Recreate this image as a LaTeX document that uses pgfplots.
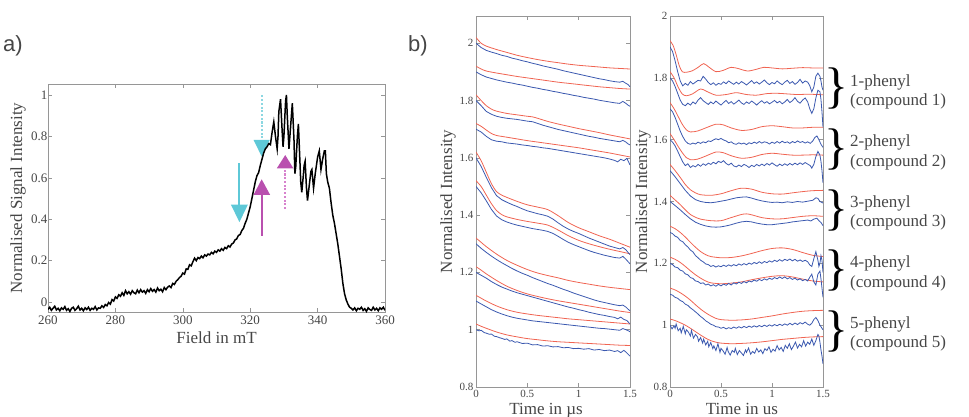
\documentclass[border=0pt]{standalone}
\usepackage{pgfplots}
\pgfplotsset{compat=1.18}
\usepackage{fontspec}
\setmainfont{Liberation Serif}
\newfontfamily\labsans{Liberation Sans}
\definecolor{axgray}{RGB}{150,150,150}
\definecolor{txtgray}{RGB}{70,70,70}
\definecolor{cyanarr}{RGB}{94,200,215}
\definecolor{magarr}{RGB}{185,80,175}
\definecolor{cyandot}{RGB}{140,215,225}
\definecolor{magdot}{RGB}{215,130,205}
\definecolor{redl}{RGB}{240,100,82}
\definecolor{bluel}{RGB}{58,88,175}
\pgfplotsset{
  myax/.style={scale only axis, enlargelimits=false, clip=true,
    axis line style={draw=axgray, line width=0.6pt},
    tick style={color=axgray, line width=0.5pt},
    major tick length=4pt, tick align=inside,
    xtick pos=both, ytick pos=both,
    /pgf/number format/assume math mode=true,
    tick label style={text=txtgray},
    label style={text=txtgray, font=\fontsize{17}{17}\selectfont}},
  rl/.style={color=redl, line width=0.8pt, smooth, no markers},
  bl/.style={color=bluel, line width=0.8pt, no markers},
}
\begin{document}
\begin{tikzpicture}
\useasboundingbox (0pt,0pt) rectangle (969pt,-416pt);
\node[anchor=base west, font=\labsans\fontsize{22}{22}\selectfont, text=txtgray, inner sep=0pt] at (3pt,-51pt) {a)};
\node[anchor=base west, font=\labsans\fontsize{22}{22}\selectfont, text=txtgray, inner sep=0pt] at (408pt,-51pt) {b)};

% ---------- panel a ----------
\begin{axis}[myax, at={(48pt,-312pt)}, anchor=south west, width=337pt, height=228pt,
  xmin=260, xmax=360, ymin=-0.048, ymax=1.053,
  xtick={260,280,...,360}, ytick={0,0.2,0.4,0.6,0.8,1},
  yticklabels={0,0.2,0.4,0.6,0.8,1},
  tick label style={font=\fontsize{13}{13}\selectfont},
  yticklabel style={xshift=3pt},
  xlabel={Field in mT}, ylabel={Normalised Signal Intensity},
  xlabel style={at={(axis description cs:0.5,-0.136)}, anchor=base},
  ylabel style={at={(axis description cs:-0.089,0.5)}, anchor=center}]
% arrows (shafts and heads as filled shapes)
\fill[cyanarr] (axis cs:316.5,0.67) rectangle (axis cs:317.1,0.465);
\fill[cyanarr] (axis cs:314.3,0.47) -- (axis cs:319.3,0.47) -- (axis cs:316.8,0.386) -- cycle;
\fill[cyanarr] (axis cs:321.0,0.783) -- (axis cs:325.8,0.783) -- (axis cs:323.4,0.703) -- cycle;
\fill[magarr] (axis cs:323.1,0.32) rectangle (axis cs:323.7,0.525);
\fill[magarr] (axis cs:321.0,0.518) -- (axis cs:325.9,0.518) -- (axis cs:323.4,0.593) -- cycle;
\fill[magarr] (axis cs:327.9,0.646) -- (axis cs:332.8,0.646) -- (axis cs:330.4,0.71) -- cycle;
% dotted shafts
\fill[cyandot] (axis cs:323.1,0.790) rectangle (axis cs:323.7,0.800);
\fill[cyandot] (axis cs:323.1,0.808) rectangle (axis cs:323.7,0.818);
\fill[cyandot] (axis cs:323.1,0.826) rectangle (axis cs:323.7,0.836);
\fill[cyandot] (axis cs:323.1,0.844) rectangle (axis cs:323.7,0.854);
\fill[cyandot] (axis cs:323.1,0.862) rectangle (axis cs:323.7,0.872);
\fill[cyandot] (axis cs:323.1,0.880) rectangle (axis cs:323.7,0.890);
\fill[cyandot] (axis cs:323.1,0.898) rectangle (axis cs:323.7,0.908);
\fill[cyandot] (axis cs:323.1,0.916) rectangle (axis cs:323.7,0.926);
\fill[cyandot] (axis cs:323.1,0.934) rectangle (axis cs:323.7,0.944);
\fill[cyandot] (axis cs:323.1,0.952) rectangle (axis cs:323.7,0.962);
\fill[cyandot] (axis cs:323.1,0.970) rectangle (axis cs:323.7,0.980);
\fill[cyandot] (axis cs:323.1,0.988) rectangle (axis cs:323.7,0.998);
\fill[magdot] (axis cs:330.1,0.449) rectangle (axis cs:330.7,0.459);
\fill[magdot] (axis cs:330.1,0.467) rectangle (axis cs:330.7,0.477);
\fill[magdot] (axis cs:330.1,0.485) rectangle (axis cs:330.7,0.495);
\fill[magdot] (axis cs:330.1,0.503) rectangle (axis cs:330.7,0.513);
\fill[magdot] (axis cs:330.1,0.521) rectangle (axis cs:330.7,0.531);
\fill[magdot] (axis cs:330.1,0.539) rectangle (axis cs:330.7,0.549);
\fill[magdot] (axis cs:330.1,0.557) rectangle (axis cs:330.7,0.567);
\fill[magdot] (axis cs:330.1,0.575) rectangle (axis cs:330.7,0.585);
\fill[magdot] (axis cs:330.1,0.593) rectangle (axis cs:330.7,0.603);
\fill[magdot] (axis cs:330.1,0.611) rectangle (axis cs:330.7,0.621);
\fill[magdot] (axis cs:330.1,0.629) rectangle (axis cs:330.7,0.639);
\addplot[color=black, line width=1.5pt, no markers] coordinates {
(260.0,-0.035)(260.5,-0.025)(261.0,-0.04)(261.5,-0.03)(262.0,-0.02)(262.5,-0.038)(263.0,-0.03)(263.5,-0.042)(264.0,-0.028)(264.5,-0.035)
(265.0,-0.022)(265.5,-0.04)(266.0,-0.032)(266.5,-0.045)(267.0,-0.03)(267.5,-0.025)(268.0,-0.04)(268.5,-0.032)(269.0,-0.02)(269.5,-0.038)
(270.0,-0.03)(270.5,-0.042)(271.0,-0.028)(271.5,-0.036)(272.0,-0.025)(272.5,-0.04)(273.0,-0.03)(273.5,-0.035)(274.0,-0.022)(274.5,-0.038)
(275.0,-0.028)(275.5,-0.03)(276.0,-0.018)(276.5,-0.026)(277.0,-0.012)(277.5,-0.018)(278.0,-0.002)(278.5,-0.01)(279.0,0.012)(279.5,0.005)
(280.0,0.025)(280.5,0.018)(281.0,0.035)(281.5,0.028)(282.0,0.045)(282.5,0.032)(283.0,0.055)(283.5,0.04)(284.0,0.05)(284.5,0.038)
(285.0,0.055)(285.5,0.045)(286.0,0.04)(286.5,0.058)(287.0,0.045)(287.5,0.06)(288.0,0.048)(288.5,0.055)(289.0,0.042)(289.5,0.06)
(290.0,0.05)(290.5,0.065)(291.0,0.052)(291.5,0.06)(292.0,0.048)(292.5,0.068)(293.0,0.055)(293.5,0.062)(294.0,0.05)(294.5,0.07)
(295.0,0.06)(295.5,0.072)(296.0,0.078)(296.5,0.07)(297.0,0.09)(297.5,0.085)(298.0,0.1)(298.5,0.108)(299.0,0.118)(299.5,0.125)
(300.0,0.14)(300.5,0.135)(301.0,0.16)(301.5,0.158)(302.0,0.18)(302.5,0.175)(303.0,0.195)(303.5,0.212)(304.0,0.2)(304.5,0.215)
(305.0,0.21)(305.5,0.222)(306.0,0.214)(306.5,0.228)(307.0,0.222)(307.5,0.232)(308.0,0.228)(308.5,0.24)(309.0,0.233)(309.5,0.246)
(310.0,0.24)(310.5,0.252)(311.0,0.246)(311.5,0.258)(312.0,0.25)(312.5,0.264)(313.0,0.258)(313.5,0.272)(314.0,0.266)(314.5,0.28)
(315.0,0.285)(315.5,0.3)(316.0,0.305)(316.5,0.322)(317.0,0.326)(317.5,0.345)(318.0,0.356)(318.5,0.38)(319.0,0.4)(319.5,0.43)
(320.0,0.46)(320.5,0.5)(321.0,0.54)(321.5,0.58)(322.0,0.61)(322.5,0.625)(323.0,0.66)(323.5,0.69)(324.0,0.72)(324.5,0.74)
(325.0,0.75)(325.5,0.765)(326.0,0.76)(326.5,0.82)(327.0,0.87)(327.5,0.8)(328.0,0.74)(328.25,0.8)(328.5,0.92)(329.0,0.98)
(329.5,0.82)(329.75,0.75)(330.0,0.8)(330.5,0.97)(330.75,1.0)(331.0,0.9)(331.5,0.74)(332.0,0.85)(332.5,0.96)(333.0,0.78)
(333.25,0.62)(333.5,0.65)(334.0,0.8)(334.3,0.86)(334.7,0.7)(335.0,0.58)(335.3,0.53)(335.7,0.6)(336.0,0.66)(336.3,0.68)
(336.7,0.55)(337.0,0.49)(337.5,0.56)(338.0,0.63)(338.3,0.64)(338.8,0.55)(339.3,0.62)(340.0,0.7)(340.5,0.73)(341.0,0.64)
(341.5,0.69)(342.0,0.73)(342.3,0.73)(342.6,0.62)(343.0,0.58)(343.5,0.55)(344.0,0.48)(344.5,0.42)(345.0,0.38)(345.5,0.33)
(346.0,0.28)(346.5,0.22)(347.0,0.16)(347.5,0.09)(348.0,0.04)(348.5,0.01)(349.0,-0.01)(349.5,-0.025)(350.0,-0.03)(350.5,-0.038)
(351.0,-0.028)(351.5,-0.042)(352.0,-0.03)(352.5,-0.035)(353.0,-0.025)(353.5,-0.04)(354.0,-0.032)(354.5,-0.045)(355.0,-0.028)(355.5,-0.036)
(356.0,-0.04)(356.5,-0.025)(357.0,-0.038)(357.5,-0.03)(358.0,-0.042)(358.5,-0.028)(359.0,-0.035)(359.5,-0.025)(360.0,-0.04)
};
\end{axis}

% ---------- panel b left ----------
\begin{axis}[myax, at={(476pt,-387pt)}, anchor=south west, width=154pt, height=371pt,
  xmin=0, xmax=1.5, ymin=0.8, ymax=2.095,
  xtick={0,0.5,1,1.5}, xticklabels={0,0.5,1,1.5},
  ytick={0.8,1,1.2,1.4,1.6,1.8,2}, yticklabels={0.8,1,1.2,1.4,1.6,1.8,2},
  tick label style={font=\fontsize{11}{11}\selectfont},
  yticklabel style={xshift=1pt},
  xlabel={Time in µs}, ylabel={Normalised Intensity},
  xlabel style={at={(axis description cs:0.455,-0.073)}, anchor=base},
  ylabel style={at={(axis description cs:-0.182,0.5)}, anchor=center}]
% red
\addplot[rl] coordinates {(0,2.02)(0.05,2.0)(0.1,1.99)(0.2,1.978)(0.3,1.968)(0.4,1.958)(0.5,1.95)(0.6,1.943)(0.7,1.937)(0.8,1.932)(0.9,1.927)(1.0,1.923)(1.1,1.92)(1.2,1.917)(1.3,1.914)(1.4,1.912)(1.5,1.91)};
\addplot[rl] coordinates {(0,1.92)(0.05,1.91)(0.1,1.903)(0.2,1.896)(0.3,1.89)(0.4,1.884)(0.5,1.879)(0.6,1.874)(0.7,1.869)(0.8,1.864)(0.9,1.86)(1.0,1.856)(1.1,1.852)(1.2,1.848)(1.3,1.845)(1.4,1.842)(1.5,1.84)};
\addplot[rl] coordinates {(0,1.82)(0.05,1.80)(0.1,1.782)(0.15,1.77)(0.2,1.763)(0.3,1.755)(0.4,1.75)(0.5,1.745)(0.55,1.743)(0.6,1.738)(0.7,1.727)(0.8,1.718)(0.9,1.71)(1.0,1.702)(1.1,1.695)(1.2,1.688)(1.3,1.68)(1.4,1.673)(1.5,1.666)};
\addplot[rl] coordinates {(0,1.72)(0.05,1.71)(0.1,1.697)(0.15,1.685)(0.2,1.678)(0.3,1.672)(0.4,1.666)(0.5,1.66)(0.6,1.655)(0.7,1.65)(0.8,1.645)(0.9,1.64)(1.0,1.635)(1.1,1.629)(1.2,1.623)(1.3,1.617)(1.4,1.61)(1.5,1.603)};
\addplot[rl] coordinates {(0,1.62)(0.05,1.59)(0.1,1.55)(0.15,1.51)(0.2,1.482)(0.25,1.47)(0.3,1.462)(0.4,1.448)(0.5,1.436)(0.6,1.428)(0.7,1.419)(0.8,1.398)(0.9,1.374)(1.0,1.356)(1.1,1.342)(1.2,1.328)(1.3,1.316)(1.4,1.302)(1.5,1.288)};
\addplot[rl] coordinates {(0,1.52)(0.05,1.50)(0.1,1.47)(0.15,1.44)(0.2,1.416)(0.25,1.402)(0.3,1.394)(0.4,1.385)(0.5,1.378)(0.6,1.372)(0.7,1.365)(0.8,1.348)(0.9,1.328)(1.0,1.312)(1.1,1.30)(1.2,1.29)(1.3,1.281)(1.4,1.273)(1.5,1.265)};
\addplot[rl] coordinates {(0,1.32)(0.05,1.305)(0.1,1.29)(0.2,1.264)(0.3,1.242)(0.4,1.225)(0.5,1.21)(0.6,1.198)(0.7,1.189)(0.8,1.181)(0.9,1.172)(1.0,1.165)(1.1,1.159)(1.2,1.153)(1.3,1.148)(1.4,1.144)(1.5,1.14)};
\addplot[rl] coordinates {(0,1.22)(0.05,1.208)(0.1,1.195)(0.2,1.172)(0.3,1.152)(0.4,1.137)(0.5,1.125)(0.6,1.116)(0.7,1.108)(0.8,1.101)(0.9,1.095)(1.0,1.089)(1.1,1.083)(1.2,1.077)(1.3,1.071)(1.4,1.065)(1.5,1.06)};
\addplot[rl] coordinates {(0,1.12)(0.05,1.11)(0.1,1.10)(0.2,1.083)(0.3,1.07)(0.4,1.061)(0.5,1.055)(0.6,1.05)(0.7,1.046)(0.8,1.042)(0.9,1.038)(1.0,1.035)(1.1,1.032)(1.2,1.029)(1.3,1.026)(1.4,1.023)(1.5,1.02)};
\addplot[rl] coordinates {(0,1.02)(0.05,1.012)(0.1,1.005)(0.2,0.992)(0.3,0.982)(0.4,0.975)(0.5,0.969)(0.6,0.965)(0.7,0.961)(0.8,0.958)(0.9,0.956)(1.0,0.954)(1.1,0.952)(1.2,0.95)(1.3,0.948)(1.4,0.946)(1.5,0.945)};
% blue
\addplot[bl] coordinates {(0,2.0)(0.05,1.985)(0.1,1.975)(0.15,1.969)(0.2,1.964)(0.25,1.958)(0.3,1.954)(0.35,1.948)(0.4,1.944)(0.45,1.939)(0.5,1.935)(0.55,1.93)(0.6,1.926)(0.65,1.921)(0.7,1.917)(0.75,1.913)(0.8,1.909)(0.85,1.904)(0.9,1.9)(0.95,1.896)(1.0,1.892)(1.05,1.888)(1.1,1.884)(1.15,1.88)(1.2,1.876)(1.25,1.873)(1.3,1.869)(1.35,1.866)(1.4,1.864)(1.43,1.867)(1.46,1.86)(1.48,1.856)(1.5,1.848)};
\addplot[bl] coordinates {(0,1.9)(0.05,1.89)(0.1,1.882)(0.15,1.877)(0.2,1.872)(0.25,1.868)(0.3,1.864)(0.35,1.861)(0.4,1.857)(0.45,1.854)(0.5,1.85)(0.55,1.846)(0.6,1.843)(0.65,1.839)(0.7,1.836)(0.75,1.832)(0.8,1.829)(0.85,1.825)(0.9,1.822)(0.95,1.818)(1.0,1.815)(1.05,1.811)(1.1,1.808)(1.15,1.805)(1.2,1.801)(1.25,1.798)(1.3,1.795)(1.35,1.792)(1.4,1.79)(1.43,1.797)(1.46,1.79)(1.48,1.784)(1.5,1.78)};
\addplot[bl] coordinates {(0,1.80)(0.05,1.782)(0.1,1.762)(0.15,1.752)(0.2,1.745)(0.25,1.741)(0.3,1.738)(0.35,1.736)(0.4,1.734)(0.45,1.731)(0.5,1.728)(0.55,1.726)(0.6,1.72)(0.65,1.714)(0.7,1.709)(0.75,1.704)(0.8,1.699)(0.85,1.695)(0.9,1.691)(0.95,1.687)(1.0,1.683)(1.05,1.679)(1.1,1.675)(1.15,1.672)(1.2,1.668)(1.25,1.665)(1.3,1.662)(1.35,1.659)(1.4,1.656)(1.43,1.661)(1.46,1.655)(1.48,1.649)(1.5,1.645)};
\addplot[bl] coordinates {(0,1.70)(0.05,1.69)(0.1,1.675)(0.15,1.663)(0.2,1.658)(0.25,1.656)(0.3,1.652)(0.35,1.65)(0.4,1.648)(0.45,1.645)(0.5,1.643)(0.55,1.64)(0.6,1.638)(0.65,1.635)(0.7,1.633)(0.75,1.63)(0.8,1.627)(0.85,1.624)(0.9,1.621)(0.95,1.618)(1.0,1.615)(1.05,1.612)(1.1,1.609)(1.15,1.606)(1.2,1.603)(1.25,1.6)(1.3,1.596)(1.35,1.591)(1.38,1.586)(1.41,1.595)(1.44,1.59)(1.47,1.598)(1.5,1.575)};
\addplot[bl] coordinates {(0,1.60)(0.05,1.57)(0.1,1.532)(0.15,1.496)(0.2,1.468)(0.25,1.454)(0.3,1.445)(0.35,1.437)(0.4,1.43)(0.45,1.422)(0.5,1.415)(0.55,1.41)(0.6,1.405)(0.65,1.401)(0.7,1.396)(0.75,1.386)(0.8,1.373)(0.85,1.361)(0.9,1.351)(0.95,1.343)(1.0,1.336)(1.05,1.328)(1.1,1.32)(1.15,1.313)(1.2,1.306)(1.25,1.299)(1.3,1.292)(1.35,1.287)(1.4,1.282)(1.43,1.287)(1.46,1.279)(1.48,1.27)(1.5,1.262)};
\addplot[bl] coordinates {(0,1.50)(0.05,1.478)(0.1,1.45)(0.15,1.42)(0.2,1.397)(0.25,1.384)(0.3,1.376)(0.35,1.37)(0.4,1.365)(0.45,1.361)(0.5,1.357)(0.55,1.353)(0.6,1.35)(0.65,1.347)(0.7,1.343)(0.75,1.336)(0.8,1.326)(0.85,1.315)(0.9,1.305)(0.95,1.297)(1.0,1.29)(1.05,1.283)(1.1,1.276)(1.15,1.27)(1.2,1.265)(1.25,1.26)(1.3,1.256)(1.35,1.252)(1.4,1.25)(1.43,1.256)(1.46,1.246)(1.48,1.238)(1.5,1.23)};
\addplot[bl] coordinates {(0,1.30)(0.05,1.284)(0.1,1.27)(0.15,1.257)(0.2,1.245)(0.25,1.234)(0.3,1.224)(0.35,1.214)(0.4,1.205)(0.45,1.197)(0.5,1.19)(0.55,1.182)(0.6,1.175)(0.65,1.168)(0.7,1.161)(0.75,1.155)(0.8,1.148)(0.85,1.141)(0.9,1.135)(0.95,1.128)(1.0,1.122)(1.05,1.116)(1.1,1.11)(1.15,1.104)(1.2,1.099)(1.25,1.095)(1.3,1.091)(1.35,1.087)(1.4,1.084)(1.43,1.086)(1.46,1.079)(1.48,1.072)(1.5,1.066)};
\addplot[bl] coordinates {(0,1.20)(0.05,1.19)(0.1,1.18)(0.15,1.168)(0.2,1.158)(0.25,1.149)(0.3,1.142)(0.35,1.135)(0.4,1.129)(0.45,1.124)(0.5,1.119)(0.55,1.114)(0.6,1.109)(0.65,1.104)(0.7,1.099)(0.75,1.094)(0.8,1.089)(0.85,1.084)(0.9,1.079)(0.95,1.075)(1.0,1.07)(1.05,1.066)(1.1,1.061)(1.15,1.057)(1.2,1.053)(1.25,1.05)(1.3,1.046)(1.35,1.043)(1.38,1.038)(1.41,1.044)(1.44,1.036)(1.47,1.032)(1.5,1.02)};
\addplot[bl] coordinates {(0,1.10)(0.05,1.09)(0.1,1.08)(0.15,1.07)(0.2,1.062)(0.25,1.055)(0.3,1.049)(0.35,1.044)(0.4,1.04)(0.45,1.037)(0.5,1.034)(0.55,1.031)(0.6,1.029)(0.65,1.027)(0.7,1.025)(0.75,1.023)(0.8,1.021)(0.85,1.019)(0.9,1.017)(0.95,1.015)(1.0,1.013)(1.05,1.011)(1.1,1.009)(1.15,1.007)(1.2,1.005)(1.25,1.004)(1.3,1.002)(1.35,1.0)(1.4,0.998)(1.43,1.004)(1.46,1.0)(1.48,0.997)(1.5,0.993)};
\addplot[bl] coordinates {(0,1.0)(0.03,0.996)(0.05,0.998)(0.08,0.99)(0.1,0.988)(0.13,0.984)(0.15,0.985)(0.18,0.977)(0.2,0.976)(0.23,0.972)(0.25,0.97)(0.28,0.966)(0.3,0.968)(0.33,0.96)(0.35,0.962)(0.38,0.956)(0.4,0.958)(0.45,0.952)(0.5,0.953)(0.55,0.947)(0.6,0.948)(0.65,0.943)(0.7,0.944)(0.75,0.94)(0.8,0.941)(0.85,0.937)(0.9,0.938)(0.95,0.934)(1.0,0.935)(1.05,0.932)(1.1,0.934)(1.15,0.929)(1.2,0.931)(1.25,0.927)(1.3,0.929)(1.35,0.924)(1.38,0.927)(1.41,0.92)(1.44,0.928)(1.46,0.922)(1.48,0.915)(1.5,0.908)};
\end{axis}

% ---------- panel b right ----------
\begin{axis}[myax, at={(670pt,-387pt)}, anchor=south west, width=153pt, height=371pt,
  xmin=0, xmax=1.5, ymin=0.8, ymax=2,
  xtick={0,0.5,1,1.5}, xticklabels={0,0.5,1,1.5},
  ytick={0.8,1,1.2,1.4,1.6,1.8,2}, yticklabels={0.8,1,1.2,1.4,1.6,1.8,2},
  tick label style={font=\fontsize{11}{11}\selectfont},
  yticklabel style={xshift=1pt},
  xlabel={Time in us}, ylabel={Normalised Intensity},
  xlabel style={at={(axis description cs:0.47,-0.073)}, anchor=base},
  ylabel style={at={(axis description cs:-0.176,0.5)}, anchor=center}]
% red
\addplot[rl] coordinates {(0,1.92)(0.03,1.905)(0.06,1.875)(0.09,1.84)(0.12,1.82)(0.16,1.818)(0.22,1.823)(0.28,1.835)(0.33,1.846)(0.38,1.835)(0.45,1.82)(0.52,1.824)(0.6,1.834)(0.68,1.829)(0.76,1.822)(0.85,1.828)(0.92,1.834)(1.0,1.832)(1.1,1.829)(1.2,1.831)(1.3,1.833)(1.4,1.832)(1.5,1.832)};
\addplot[rl] coordinates {(0,1.82)(0.04,1.8)(0.08,1.77)(0.12,1.748)(0.16,1.742)(0.22,1.748)(0.3,1.764)(0.36,1.756)(0.45,1.744)(0.55,1.746)(0.65,1.752)(0.75,1.746)(0.85,1.744)(0.95,1.749)(1.05,1.75)(1.15,1.748)(1.25,1.746)(1.35,1.747)(1.45,1.746)(1.5,1.745)};
\addplot[rl] coordinates {(0,1.72)(0.04,1.70)(0.08,1.675)(0.12,1.65)(0.16,1.632)(0.2,1.625)(0.27,1.628)(0.35,1.638)(0.45,1.65)(0.52,1.648)(0.6,1.638)(0.7,1.63)(0.8,1.633)(0.9,1.642)(1.0,1.645)(1.1,1.642)(1.2,1.638)(1.3,1.638)(1.4,1.64)(1.5,1.64)};
\addplot[rl] coordinates {(0,1.62)(0.04,1.60)(0.08,1.578)(0.12,1.558)(0.16,1.542)(0.2,1.535)(0.27,1.537)(0.35,1.547)(0.45,1.56)(0.52,1.558)(0.6,1.548)(0.7,1.54)(0.8,1.543)(0.9,1.552)(1.0,1.556)(1.1,1.553)(1.2,1.55)(1.3,1.55)(1.4,1.551)(1.5,1.55)};
\addplot[rl] coordinates {(0,1.52)(0.05,1.50)(0.1,1.478)(0.15,1.455)(0.2,1.438)(0.25,1.428)(0.3,1.422)(0.4,1.42)(0.5,1.425)(0.6,1.435)(0.7,1.443)(0.8,1.44)(0.9,1.43)(1.0,1.425)(1.1,1.424)(1.2,1.428)(1.3,1.432)(1.4,1.435)(1.5,1.436)};
\addplot[rl] coordinates {(0,1.42)(0.05,1.405)(0.1,1.39)(0.15,1.373)(0.2,1.358)(0.25,1.349)(0.3,1.343)(0.4,1.338)(0.5,1.338)(0.6,1.348)(0.7,1.358)(0.75,1.36)(0.8,1.357)(0.9,1.348)(1.0,1.344)(1.1,1.344)(1.2,1.348)(1.3,1.352)(1.4,1.354)(1.5,1.352)};
\addplot[rl] coordinates {(0,1.32)(0.05,1.312)(0.1,1.3)(0.15,1.285)(0.2,1.268)(0.25,1.252)(0.3,1.238)(0.35,1.228)(0.4,1.222)(0.5,1.218)(0.6,1.219)(0.7,1.224)(0.8,1.232)(0.9,1.241)(1.0,1.248)(1.1,1.25)(1.2,1.245)(1.3,1.235)(1.4,1.226)(1.5,1.222)};
\addplot[rl] coordinates {(0,1.22)(0.05,1.213)(0.1,1.203)(0.15,1.19)(0.2,1.176)(0.25,1.163)(0.3,1.152)(0.35,1.143)(0.4,1.137)(0.5,1.134)(0.6,1.136)(0.7,1.14)(0.8,1.147)(0.9,1.153)(1.0,1.158)(1.1,1.16)(1.2,1.156)(1.3,1.149)(1.4,1.143)(1.5,1.14)};
\addplot[rl] coordinates {(0,1.12)(0.05,1.114)(0.1,1.105)(0.15,1.094)(0.2,1.081)(0.25,1.066)(0.3,1.052)(0.35,1.04)(0.4,1.03)(0.45,1.022)(0.5,1.018)(0.6,1.016)(0.7,1.017)(0.8,1.02)(0.9,1.025)(1.0,1.03)(1.1,1.036)(1.2,1.041)(1.3,1.045)(1.4,1.047)(1.5,1.048)};
\addplot[rl] coordinates {(0,1.02)(0.05,1.015)(0.1,1.008)(0.15,1.0)(0.2,0.99)(0.25,0.979)(0.3,0.968)(0.35,0.958)(0.4,0.95)(0.45,0.945)(0.5,0.942)(0.6,0.94)(0.7,0.941)(0.8,0.943)(0.9,0.946)(1.0,0.95)(1.1,0.954)(1.2,0.957)(1.3,0.96)(1.4,0.962)(1.5,0.963)};
% blue
\addplot[bl] coordinates {(0,1.90)(0.025,1.885)(0.05,1.855)(0.075,1.82)(0.1,1.79)(0.125,1.774)(0.15,1.782)(0.175,1.776)(0.2,1.788)(0.225,1.78)(0.25,1.786)(0.275,1.792)(0.3,1.79)(0.325,1.805)(0.35,1.796)(0.375,1.785)(0.4,1.778)(0.425,1.784)(0.45,1.776)(0.475,1.782)(0.5,1.779)(0.525,1.787)(0.55,1.781)(0.575,1.79)(0.6,1.784)(0.625,1.779)(0.65,1.786)(0.675,1.78)(0.7,1.788)(0.725,1.783)(0.75,1.777)(0.775,1.784)(0.8,1.791)(0.825,1.782)(0.85,1.787)(0.875,1.78)(0.9,1.786)(0.925,1.793)(0.95,1.784)(0.975,1.778)(1.0,1.785)(1.025,1.781)(1.05,1.79)(1.075,1.783)(1.1,1.778)(1.125,1.786)(1.15,1.792)(1.175,1.782)(1.2,1.788)(1.225,1.779)(1.25,1.785)(1.275,1.795)(1.3,1.783)(1.325,1.79)(1.35,1.786)(1.37,1.775)(1.39,1.755)(1.41,1.77)(1.43,1.805)(1.45,1.815)(1.47,1.805)(1.48,1.79)(1.49,1.77)(1.5,1.76)};
\addplot[bl] coordinates {(0,1.80)(0.025,1.79)(0.05,1.772)(0.075,1.75)(0.1,1.728)(0.125,1.714)(0.15,1.71)(0.175,1.718)(0.2,1.712)(0.225,1.722)(0.25,1.716)(0.275,1.728)(0.3,1.736)(0.325,1.726)(0.35,1.72)(0.375,1.714)(0.4,1.722)(0.425,1.716)(0.45,1.725)(0.475,1.718)(0.5,1.712)(0.525,1.72)(0.55,1.727)(0.575,1.717)(0.6,1.723)(0.625,1.715)(0.65,1.721)(0.675,1.728)(0.7,1.719)(0.725,1.714)(0.75,1.722)(0.775,1.717)(0.8,1.725)(0.825,1.719)(0.85,1.712)(0.875,1.72)(0.9,1.726)(0.925,1.718)(0.95,1.723)(0.975,1.716)(1.0,1.721)(1.025,1.727)(1.05,1.719)(1.075,1.724)(1.1,1.716)(1.125,1.722)(1.15,1.73)(1.175,1.72)(1.2,1.726)(1.225,1.736)(1.25,1.724)(1.275,1.718)(1.3,1.728)(1.325,1.735)(1.35,1.722)(1.37,1.7)(1.39,1.685)(1.41,1.7)(1.43,1.735)(1.45,1.76)(1.47,1.755)(1.48,1.73)(1.49,1.69)(1.5,1.64)};
\addplot[bl] coordinates {(0,1.70)(0.025,1.69)(0.05,1.672)(0.075,1.65)(0.1,1.628)(0.125,1.61)(0.15,1.596)(0.175,1.588)(0.2,1.585)(0.225,1.589)(0.25,1.586)(0.275,1.592)(0.3,1.588)(0.325,1.593)(0.35,1.59)(0.375,1.596)(0.4,1.594)(0.425,1.599)(0.45,1.603)(0.475,1.6)(0.5,1.604)(0.525,1.599)(0.55,1.596)(0.575,1.59)(0.6,1.593)(0.625,1.587)(0.65,1.585)(0.675,1.59)(0.7,1.586)(0.725,1.589)(0.75,1.584)(0.775,1.59)(0.8,1.587)(0.825,1.592)(0.85,1.588)(0.875,1.594)(0.9,1.589)(0.925,1.593)(0.95,1.591)(0.975,1.586)(1.0,1.592)(1.025,1.588)(1.05,1.594)(1.075,1.589)(1.1,1.595)(1.125,1.59)(1.15,1.593)(1.175,1.588)(1.2,1.594)(1.225,1.59)(1.25,1.596)(1.275,1.591)(1.3,1.594)(1.325,1.589)(1.35,1.593)(1.375,1.588)(1.4,1.596)(1.42,1.607)(1.44,1.612)(1.46,1.6)(1.48,1.585)(1.5,1.575)};
\addplot[bl] coordinates {(0,1.60)(0.025,1.592)(0.05,1.58)(0.075,1.563)(0.1,1.545)(0.125,1.528)(0.15,1.516)(0.175,1.522)(0.2,1.51)(0.225,1.516)(0.25,1.512)(0.275,1.52)(0.3,1.514)(0.325,1.522)(0.35,1.517)(0.375,1.524)(0.4,1.52)(0.425,1.527)(0.45,1.522)(0.475,1.53)(0.5,1.526)(0.525,1.532)(0.55,1.523)(0.575,1.518)(0.6,1.524)(0.625,1.515)(0.65,1.512)(0.675,1.518)(0.7,1.513)(0.725,1.52)(0.75,1.516)(0.775,1.51)(0.8,1.517)(0.825,1.513)(0.85,1.52)(0.875,1.515)(0.9,1.521)(0.925,1.516)(0.95,1.523)(0.975,1.518)(1.0,1.525)(1.025,1.519)(1.05,1.514)(1.075,1.521)(1.1,1.516)(1.125,1.522)(1.15,1.517)(1.175,1.523)(1.2,1.518)(1.225,1.524)(1.25,1.519)(1.275,1.525)(1.3,1.52)(1.325,1.526)(1.35,1.521)(1.375,1.516)(1.39,1.508)(1.41,1.52)(1.43,1.545)(1.45,1.562)(1.47,1.55)(1.48,1.53)(1.49,1.5)(1.5,1.46)};
\addplot[bl] coordinates {(0,1.50)(0.05,1.48)(0.1,1.458)(0.15,1.436)(0.2,1.418)(0.25,1.406)(0.3,1.4)(0.35,1.397)(0.4,1.396)(0.45,1.398)(0.5,1.401)(0.55,1.404)(0.6,1.408)(0.65,1.412)(0.7,1.414)(0.75,1.415)(0.8,1.411)(0.85,1.406)(0.9,1.402)(0.95,1.399)(1.0,1.397)(1.05,1.398)(1.1,1.396)(1.15,1.399)(1.2,1.397)(1.25,1.4)(1.3,1.398)(1.35,1.401)(1.4,1.404)(1.43,1.412)(1.45,1.41)(1.47,1.4)(1.5,1.395)};
\addplot[bl] coordinates {(0,1.40)(0.05,1.387)(0.1,1.373)(0.15,1.358)(0.2,1.344)(0.25,1.333)(0.3,1.326)(0.35,1.321)(0.4,1.318)(0.45,1.317)(0.5,1.318)(0.55,1.321)(0.6,1.325)(0.65,1.33)(0.7,1.334)(0.75,1.336)(0.8,1.334)(0.85,1.33)(0.9,1.327)(0.95,1.325)(1.0,1.325)(1.05,1.327)(1.1,1.329)(1.15,1.331)(1.2,1.334)(1.25,1.336)(1.3,1.338)(1.35,1.34)(1.38,1.337)(1.41,1.343)(1.44,1.346)(1.46,1.338)(1.48,1.332)(1.5,1.322)};
\addplot[bl] coordinates {(0,1.30)(0.025,1.296)(0.05,1.288)(0.075,1.284)(0.1,1.274)(0.125,1.27)(0.15,1.26)(0.175,1.253)(0.2,1.243)(0.225,1.237)(0.25,1.225)(0.275,1.218)(0.3,1.21)(0.325,1.205)(0.35,1.198)(0.375,1.196)(0.4,1.19)(0.425,1.193)(0.45,1.188)(0.475,1.192)(0.5,1.189)(0.525,1.194)(0.55,1.19)(0.575,1.195)(0.6,1.191)(0.625,1.196)(0.65,1.192)(0.675,1.198)(0.7,1.194)(0.725,1.199)(0.75,1.195)(0.775,1.201)(0.8,1.197)(0.825,1.203)(0.85,1.199)(0.875,1.205)(0.9,1.2)(0.925,1.206)(0.95,1.202)(0.975,1.208)(1.0,1.204)(1.025,1.21)(1.05,1.206)(1.075,1.212)(1.1,1.207)(1.125,1.213)(1.15,1.209)(1.175,1.214)(1.2,1.208)(1.225,1.213)(1.25,1.207)(1.275,1.211)(1.3,1.206)(1.325,1.21)(1.35,1.205)(1.37,1.195)(1.39,1.19)(1.41,1.215)(1.43,1.238)(1.45,1.21)(1.46,1.19)(1.47,1.2)(1.48,1.225)(1.49,1.21)(1.5,1.17)};
\addplot[bl] coordinates {(0,1.20)(0.025,1.196)(0.05,1.188)(0.075,1.186)(0.1,1.178)(0.125,1.175)(0.15,1.166)(0.175,1.163)(0.2,1.154)(0.225,1.151)(0.25,1.143)(0.275,1.141)(0.3,1.135)(0.325,1.137)(0.35,1.13)(0.375,1.133)(0.4,1.127)(0.425,1.131)(0.45,1.126)(0.475,1.132)(0.5,1.127)(0.525,1.133)(0.55,1.129)(0.575,1.135)(0.6,1.13)(0.625,1.137)(0.65,1.133)(0.675,1.139)(0.7,1.135)(0.725,1.141)(0.75,1.137)(0.775,1.143)(0.8,1.14)(0.825,1.146)(0.85,1.142)(0.875,1.148)(0.9,1.144)(0.925,1.15)(0.95,1.146)(0.975,1.152)(1.0,1.148)(1.025,1.154)(1.05,1.15)(1.075,1.156)(1.1,1.151)(1.125,1.156)(1.15,1.15)(1.175,1.154)(1.2,1.148)(1.225,1.152)(1.25,1.146)(1.275,1.15)(1.3,1.144)(1.325,1.148)(1.35,1.143)(1.37,1.155)(1.39,1.165)(1.41,1.14)(1.43,1.13)(1.45,1.165)(1.47,1.175)(1.48,1.15)(1.49,1.12)(1.5,1.09)};
\addplot[bl] coordinates {(0,1.10)(0.025,1.097)(0.05,1.09)(0.075,1.087)(0.1,1.08)(0.125,1.076)(0.15,1.068)(0.175,1.064)(0.2,1.056)(0.225,1.05)(0.25,1.043)(0.275,1.036)(0.3,1.028)(0.325,1.022)(0.35,1.014)(0.375,1.009)(0.4,1.003)(0.425,1.0)(0.45,0.995)(0.475,0.994)(0.5,0.99)(0.525,0.993)(0.55,0.988)(0.575,0.992)(0.6,0.989)(0.625,0.994)(0.65,0.99)(0.675,0.995)(0.7,0.991)(0.725,0.996)(0.75,0.992)(0.775,0.997)(0.8,0.993)(0.825,0.998)(0.85,0.994)(0.875,0.999)(0.9,0.995)(0.925,1.0)(0.95,0.996)(0.975,1.001)(1.0,0.997)(1.025,1.002)(1.05,0.998)(1.075,1.003)(1.1,0.999)(1.125,1.004)(1.15,1.0)(1.175,1.006)(1.2,1.001)(1.225,1.007)(1.25,1.002)(1.275,1.008)(1.3,1.004)(1.325,1.01)(1.35,1.003)(1.37,1.0)(1.39,1.006)(1.41,1.018)(1.43,1.025)(1.45,1.015)(1.47,1.0)(1.49,0.99)(1.5,0.985)};
\addplot[bl] coordinates {(0,1.0)(0.02,0.988)(0.04,0.998)(0.05,0.99)(0.06,1.004)(0.08,0.982)(0.1,0.99)(0.11,0.975)(0.13,0.996)(0.15,0.972)(0.16,0.985)(0.18,0.978)(0.2,0.965)(0.21,0.983)(0.23,0.958)(0.25,0.97)(0.27,0.962)(0.28,0.948)(0.3,0.96)(0.32,0.942)(0.33,0.955)(0.35,0.936)(0.37,0.948)(0.38,0.93)(0.4,0.944)(0.42,0.924)(0.43,0.933)(0.45,0.918)(0.47,0.94)(0.49,0.912)(0.5,0.925)(0.52,0.917)(0.54,0.906)(0.56,0.928)(0.57,0.915)(0.59,0.903)(0.61,0.918)(0.63,0.912)(0.64,0.925)(0.66,0.905)(0.68,0.918)(0.7,0.91)(0.72,0.902)(0.74,0.92)(0.75,0.912)(0.77,0.926)(0.79,0.906)(0.81,0.915)(0.83,0.909)(0.85,0.925)(0.87,0.913)(0.89,0.92)(0.91,0.908)(0.93,0.924)(0.95,0.918)(0.97,0.93)(0.99,0.912)(1.01,0.922)(1.03,0.916)(1.05,0.934)(1.07,0.92)(1.09,0.928)(1.11,0.915)(1.13,0.935)(1.15,0.925)(1.17,0.94)(1.19,0.921)(1.21,0.932)(1.23,0.945)(1.25,0.926)(1.27,0.938)(1.29,0.93)(1.31,0.95)(1.33,0.932)(1.35,0.945)(1.37,0.938)(1.39,0.955)(1.41,0.935)(1.43,0.95)(1.45,0.97)(1.46,0.965)(1.47,0.945)(1.48,0.92)(1.49,0.9)(1.5,0.875)};
\end{axis}

% braces and compound labels
\foreach \k/\n in {0/1,1/2,2/3,3/4,4/5}{
  \node[font=\fontsize{50}{50}\selectfont, text=black, inner sep=0pt] at (836pt,{-88.5pt-60.8pt*\k}) {\}};
  \node[anchor=base west, font=\fontsize{17}{17}\selectfont, text=txtgray, inner sep=0pt] at (850pt,{-86pt-60.5pt*\k}) {\n-phenyl};
  \node[anchor=base west, font=\fontsize{17}{17}\selectfont, text=txtgray, inner sep=0pt] at (850pt,{-105.5pt-60.5pt*\k}) {(compound \n)};
}
\end{tikzpicture}
\end{document}
